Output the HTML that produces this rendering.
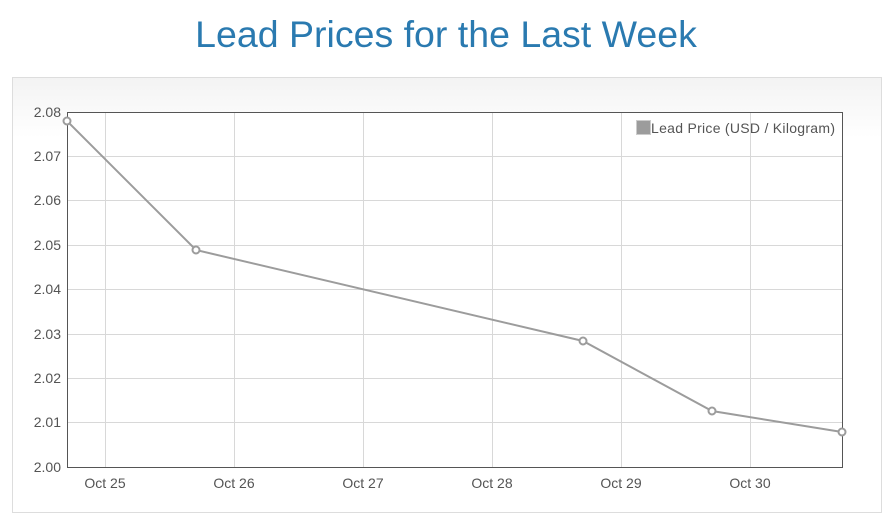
<!DOCTYPE html>
<html><head><style>
body{margin:0;width:892px;height:522px;background:#fff;font-family:"Liberation Sans",Arial,sans-serif;overflow:hidden;position:relative}
h1{position:absolute;top:13px;left:0;width:892px;text-align:center;margin:0;font-weight:normal;font-size:37.5px;color:#2a7ab0}
.box{position:absolute;left:12px;top:77px;width:870px;height:436px;border:1px solid #ddd;background:linear-gradient(#f3f3f3,#fff 60px);box-sizing:border-box}
svg{position:absolute;left:0;top:0}
</style></head><body>
<h1>Lead Prices for the Last Week</h1>
<div class="box"></div>
<svg width="892" height="522" font-family="Liberation Sans, Arial, sans-serif">
<rect x="67" y="112" width="775" height="355" fill="#fff"/>
<g stroke="#d8d8d8" stroke-width="1">
<line x1="67" x2="842" y1="156.5" y2="156.5"/><line x1="67" x2="842" y1="200.5" y2="200.5"/>
<line x1="67" x2="842" y1="245.5" y2="245.5"/><line x1="67" x2="842" y1="289.5" y2="289.5"/>
<line x1="67" x2="842" y1="334.5" y2="334.5"/><line x1="67" x2="842" y1="378.5" y2="378.5"/>
<line x1="67" x2="842" y1="422.5" y2="422.5"/>
<line x1="105.5" x2="105.5" y1="112" y2="467"/><line x1="234.5" x2="234.5" y1="112" y2="467"/>
<line x1="363.5" x2="363.5" y1="112" y2="467"/><line x1="492.5" x2="492.5" y1="112" y2="467"/>
<line x1="621.5" x2="621.5" y1="112" y2="467"/><line x1="750.5" x2="750.5" y1="112" y2="467"/>
</g>
<rect x="67.5" y="112.5" width="775" height="355" fill="none" stroke="#555"/>
<g font-size="14" fill="#545454" text-anchor="end">
<text x="61" y="117">2.08</text><text x="61" y="161">2.07</text><text x="61" y="205">2.06</text>
<text x="61" y="250">2.05</text><text x="61" y="294">2.04</text><text x="61" y="339">2.03</text>
<text x="61" y="383">2.02</text><text x="61" y="427">2.01</text><text x="61" y="472">2.00</text>
</g>
<g font-size="14" fill="#545454" text-anchor="middle">
<text x="105" y="488">Oct 25</text><text x="234" y="488">Oct 26</text><text x="363" y="488">Oct 27</text>
<text x="492" y="488">Oct 28</text><text x="621" y="488">Oct 29</text><text x="750" y="488">Oct 30</text>
</g>
<polyline points="67,121 196,250 583,341 712,411 842,432" fill="none" stroke="#9c9c9c" stroke-width="2"/>
<g fill="#fff" stroke="#9c9c9c" stroke-width="2">
<circle cx="67" cy="121" r="3.5"/><circle cx="196" cy="250" r="3.5"/><circle cx="583" cy="341" r="3.5"/>
<circle cx="712" cy="411" r="3.5"/><circle cx="842" cy="432" r="3.5"/>
</g>
<rect x="636.5" y="120.5" width="14" height="14" fill="#9c9c9c" stroke="#ccc"/>
<text x="651" y="133" font-size="14" fill="#545454" textLength="184">Lead Price (USD / Kilogram)</text>
</svg>
</body></html>
